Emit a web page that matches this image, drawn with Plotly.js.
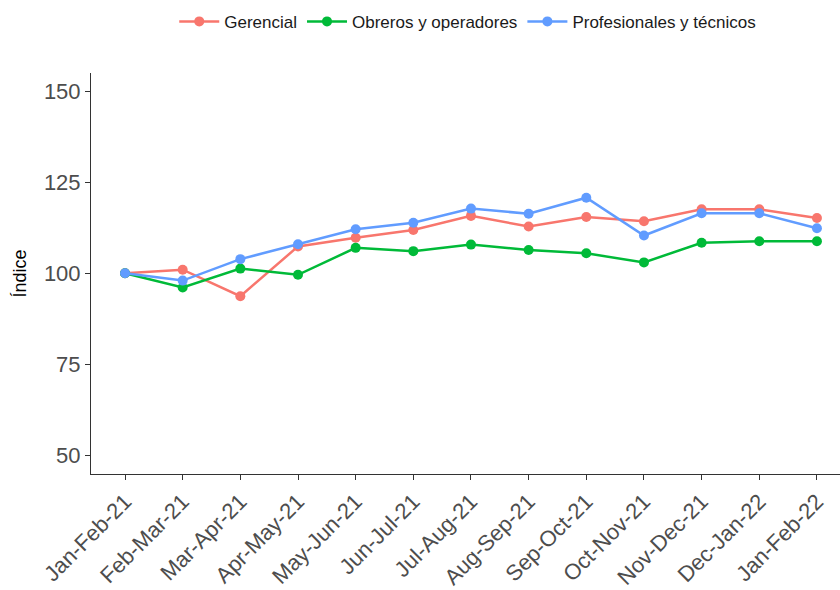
<!DOCTYPE html>
<html><head><meta charset="utf-8">
<script src="https://cdn.plot.ly/plotly-3.0.1.min.js"></script>
<style>body{margin:0;padding:0;background:#fff}#chart{width:840px;height:590px}</style>
</head><body><div id="chart"></div>
<script>
const periods = ["Jan-Feb-21","Feb-Mar-21","Mar-Apr-21","Apr-May-21","May-Jun-21","Jun-Jul-21","Jul-Aug-21","Aug-Sep-21","Sep-Oct-21","Oct-Nov-21","Nov-Dec-21","Dec-Jan-22","Jan-Feb-22"];
const gerencial = [100, 101.0, 93.7, 107.4, 109.8, 111.9, 115.8, 112.9, 115.5, 114.3, 117.6, 117.6, 115.2];
const obreros = [100, 96.1, 101.3, 99.6, 107.0, 106.1, 107.9, 106.4, 105.5, 103.0, 108.4, 108.8, 108.8];
const profesionales = [100, 98.0, 103.9, 108.0, 112.1, 113.9, 117.8, 116.4, 120.8, 110.4, 116.5, 116.5, 112.4];
const seriesNames = ["Gerencial","Obreros y operadores","Profesionales y técnicos"];
const colors = ["#F8766D","#00BA38","#619CFF"];
const yTicks = [50, 75, 100, 125, 150];

const xIdx = periods.map((_, i) => i);
const traces = [gerencial, obreros, profesionales].map((vals, k) => ({
  x: xIdx, y: vals, name: seriesNames[k], type: "scatter", mode: "lines+markers",
  line: {color: colors[k], width: 2.5}, marker: {color: colors[k], size: 10},
  cliponaxis: false
}));

const layout = {
  width: 840, height: 590,
  margin: {l: 91, r: 0, t: 73, b: 116},
  paper_bgcolor: "#fff", plot_bgcolor: "#fff",
  font: {family: "Liberation Sans, Arial, sans-serif"},
  showlegend: true,
  legend: {orientation: "h", x: 0.503, xanchor: "center", y: 0.963, yref: "container", yanchor: "middle",
           font: {size: 17, color: "#1a1a1a"}, itemwidth: 40, tracegroupgap: 0},
  xaxis: {
    range: [-0.59, 12.4], tickmode: "array", tickvals: xIdx, ticktext: periods,
    tickangle: -45, tickfont: {size: 22, color: "#4D4D4D"},
    showgrid: false, zeroline: false, showline: true, linecolor: "#333", linewidth: 1,
    ticks: "outside", ticklen: 5, tickcolor: "#333", tickwidth: 1
  },
  yaxis: {
    range: [44.8, 155.1], tickmode: "array", tickvals: yTicks,
    tickfont: {size: 22, color: "#4D4D4D"},
    title: {text: "Índice", font: {size: 18, color: "#000"}, standoff: 12},
    showgrid: false, zeroline: false, showline: true, linecolor: "#333", linewidth: 1,
    ticks: "outside", ticklen: 5, tickcolor: "#333", tickwidth: 1
  }
};
Plotly.newPlot("chart", traces, layout, {displayModeBar: false, staticPlot: true});
</script></body></html>
